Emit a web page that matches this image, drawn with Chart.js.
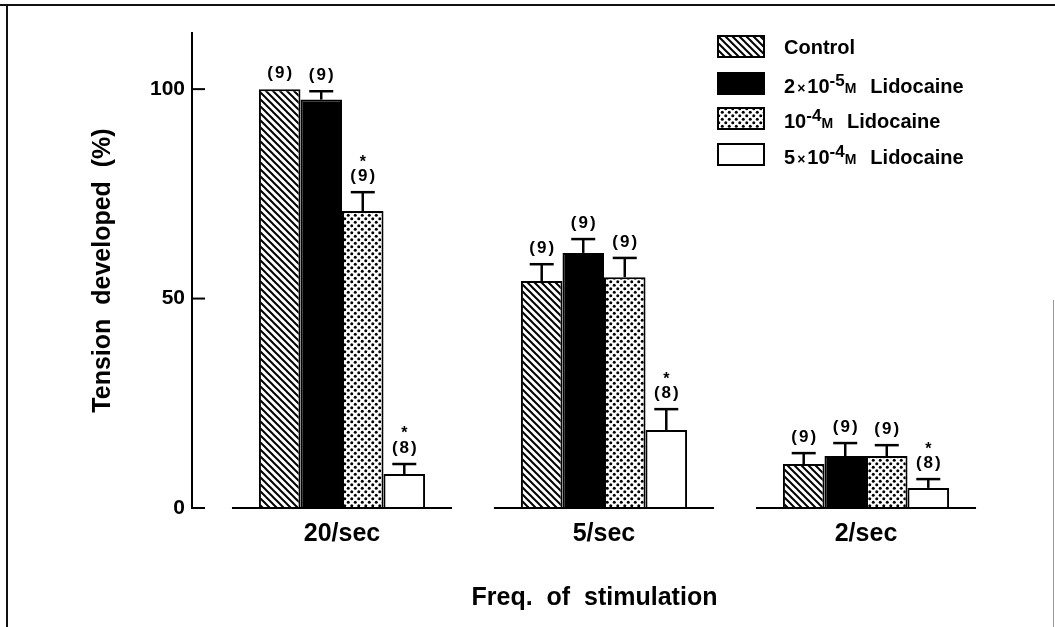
<!DOCTYPE html>
<html>
<head>
<meta charset="utf-8">
<script src="https://cdn.jsdelivr.net/npm/chart.js@4"></script>
<style>
  body { margin: 0; background: #fff; }
  #wrap { position: relative; width: 1055px; height: 627px; overflow: hidden; background: #fff; }
  #chart { position: absolute; left: 0; top: 0; }
  .frameTop { position: absolute; left: 0; top: 4px; width: 1055px; height: 2px; background: #111; }
  .frameLeft { position: absolute; left: 6px; top: 4px; width: 2px; height: 623px; background: #111; }
  .frameRight { position: absolute; left: 1053px; top: 300px; width: 1px; height: 327px; background: #999; }
  .sw { position: absolute; left: 717px; width: 48px; height: 23px; }
  .lt { position: absolute; left: 784px; font: bold 20px "Liberation Sans", Arial, sans-serif; line-height: 20px; color: #000; white-space: pre; }
  .lt sup { font-size: 17px; vertical-align: 7px; line-height: 0; }
  .lt .m { font-size: 14px; }
  .lt .x { font-size: 14px; margin: 0 2px; }
  .lt .w { margin-left: 14px; }
</style>
</head>
<body>
<div id="wrap">
  <canvas id="chart" width="1055" height="627"></canvas>
  <div class="frameTop"></div>
  <div class="frameLeft"></div>
  <div class="frameRight"></div>
  <div id="legend"></div>
</div>
<script>
// ---------------- data ----------------
const categories = ['20/sec', '5/sec', '2/sec'];
const seriesNames = ['Control', '2×10⁻⁵M Lidocaine', '10⁻⁴M Lidocaine', '5×10⁻⁴M Lidocaine'];
const legendParts = [
  { pre: 'Control', sup: '', unit: '', drug: '' },
  { pre: '2|×|10', sup: '-5', unit: 'M', drug: 'Lidocaine' },
  { pre: '10', sup: '-4', unit: 'M', drug: 'Lidocaine' },
  { pre: '5|×|10', sup: '-4', unit: 'M', drug: 'Lidocaine' }
];
const control  = [100, 54.2, 10.5];
const lido2e5  = [97.5, 60.9, 12.4];
const lido1e4  = [70.9, 55.1, 12.4];
const lido5e4  = [8.1, 18.6, 4.8];
const controlErr = [0, 4.0, 2.6];
const lido2e5Err = [2.0, 3.3, 3.1];
const lido1e4Err = [4.5, 4.6, 2.6];
const lido5e4Err = [2.4, 5.0, 2.1];
const controlN = [9, 9, 9];
const lido2e5N = [9, 9, 9];
const lido1e4N = [9, 9, 9];
const lido5e4N = [8, 8, 8];
const controlSig = [false, false, false];
const lido2e5Sig = [false, false, false];
const lido1e4Sig = [true, false, false];
const lido5e4Sig = [true, true, true];
const yTicks = [0, 50, 100];
const yMax = 113.4;
const xTitle = 'Freq.  of  stimulation';
const yTitle = 'Tension  developed  (%)';

// ---------------- styles ----------------
const FONT = '"Liberation Sans", Arial, sans-serif';
const BASE_HALF = 0.42;
const canvas = document.getElementById('chart');
const ctx = canvas.getContext('2d');

function hatchPattern(c2) {
  const s = 7;
  const c = document.createElement('canvas');
  c.width = s; c.height = s;
  const g = c.getContext('2d');
  g.fillStyle = '#fff'; g.fillRect(0, 0, s, s);
  g.strokeStyle = '#000'; g.lineWidth = 2;
  g.beginPath();
  g.moveTo(-1, -1); g.lineTo(s + 1, s + 1);
  g.moveTo(-1, s - 1); g.lineTo(1, s + 1);
  g.moveTo(s - 1, -1); g.lineTo(s + 1, 1);
  g.stroke();
  return c2.createPattern(c, 'repeat');
}
function dotPattern(c2) {
  const s = 7;
  const c = document.createElement('canvas');
  c.width = s; c.height = s;
  const g = c.getContext('2d');
  g.fillStyle = '#fff'; g.fillRect(0, 0, s, s);
  g.fillStyle = '#000';
  [[1.75, 1.75], [5.25, 5.25]].forEach(([px, py]) => {
    g.beginPath(); g.arc(px, py, 1.5, 0, Math.PI * 2); g.fill();
  });
  return c2.createPattern(c, 'repeat');
}
const fills = [hatchPattern(ctx), '#000', dotPattern(ctx), '#fff'];
const values = [control, lido2e5, lido1e4, lido5e4];
const errs = [controlErr, lido2e5Err, lido1e4Err, lido5e4Err];
const counts = [controlN, lido2e5N, lido1e4N, lido5e4N];
const sigs = [controlSig, lido2e5Sig, lido1e4Sig, lido5e4Sig];

const toXY = arr => arr.map((v, i) => ({ x: i + 1, y: v }));

const overlay = {
  id: 'overlay',
  afterDatasetsDraw(chart) {
    const c = chart.ctx;
    const x = chart.scales.x, y = chart.scales.y;
    const y0 = y.getPixelForValue(0);
    c.save();
    c.strokeStyle = '#000';
    c.fillStyle = '#000';
    c.lineWidth = 2;
    categories.forEach((cat, i) => {
      const cx = x.getPixelForValue(i + 1);
      const hw = x.getPixelForValue(i + 1 + BASE_HALF) - cx;
      c.beginPath(); c.moveTo(cx - hw, y0); c.lineTo(cx + hw, y0); c.stroke();
    });
    const left = chart.chartArea.left;
    yTicks.forEach(v => {
      const py = y.getPixelForValue(v);
      c.beginPath(); c.moveTo(left, py); c.lineTo(left + 13, py); c.stroke();
    });
    chart.data.datasets.forEach((ds, di) => {
      const meta = chart.getDatasetMeta(di);
      meta.data.forEach((bar, j) => {
        const v = ds.data[j].y, e = ds.errors[j];
        let top = bar.y;
        if (e > 0) {
          const pe = y.getPixelForValue(v + e);
          c.lineWidth = 2.5;
          c.beginPath(); c.moveTo(bar.x, bar.y); c.lineTo(bar.x, pe); c.stroke();
          c.beginPath(); c.moveTo(bar.x - 12, pe); c.lineTo(bar.x + 12, pe); c.stroke();
          top = pe;
        }
        c.textAlign = 'center';
        c.textBaseline = 'middle';
        c.font = 'bold 17px ' + FONT;
        c.letterSpacing = '2px';
        c.fillText('(' + ds.counts[j] + ')', bar.x + 1, top - 16);
        if (ds.sig[j]) {
          c.letterSpacing = '0px';
          c.font = 'bold 16px ' + FONT;
          c.fillText('*', bar.x, top - 30);
        }
      });
    });
    c.restore();
  }
};

new Chart(ctx, {
  type: 'bar',
  data: {
    datasets: seriesNames.map((name, k) => ({
      label: name,
      data: toXY(values[k]),
      errors: errs[k],
      counts: counts[k],
      sig: sigs[k],
      backgroundColor: fills[k],
      borderColor: '#000',
      borderWidth: 2,
      categoryPercentage: 0.634,
      barPercentage: 1
    }))
  },
  options: {
    responsive: false,
    animation: false,
    devicePixelRatio: 1,
    layout: { padding: { left: 0, top: 33, right: 58, bottom: 0 } },
    plugins: { legend: { display: false }, tooltip: { enabled: false } },
    scales: {
      x: {
        type: 'linear',
        offset: false,
        min: 0.4275,
        max: 3.5,
        grid: { display: false, drawTicks: false },
        border: { display: false },
        afterBuildTicks: s => { s.ticks = categories.map((c, i) => ({ value: i + 1 })); },
        afterFit: s => { s.height = 119; },
        ticks: {
          callback: v => categories[Math.round(v) - 1] ?? '',
          font: { family: FONT, size: 25, weight: 'bold' },
          color: '#000',
          padding: 11,
          maxRotation: 0,
          autoSkip: false
        },
        title: {
          display: true, text: xTitle, color: '#000',
          font: { family: FONT, size: 25, weight: 'bold' },
          padding: { top: 0, bottom: 14 }
        }
      },
      y: {
        min: 0,
        max: yMax,
        grid: { display: false, drawTicks: false },
        border: { display: true, color: '#000', width: 2 },
        afterBuildTicks: s => { s.ticks = yTicks.map(v => ({ value: v })); },
        afterFit: s => { s.width = 192; },
        ticks: {
          font: { family: FONT, size: 21, weight: 'bold' },
          color: '#000',
          padding: 7
        },
        title: {
          display: true, text: yTitle, color: '#000',
          font: { family: FONT, size: 25, weight: 'bold' },
          padding: { top: 88, bottom: 0 }
        }
      }
    }
  },
  plugins: [overlay]
});

// ---------------- HTML legend ----------------
const swTops = [35, 72, 107, 143];
const textBaselines = [54, 93, 128, 164];
const legend = document.getElementById('legend');
legendParts.forEach((p, k) => {
  const sw = document.createElement('canvas');
  sw.className = 'sw';
  sw.width = 48; sw.height = 23;
  sw.style.top = swTops[k] + 'px';
  const g = sw.getContext('2d');
  g.fillStyle = k === 0 ? hatchPattern(g) : k === 2 ? dotPattern(g) : fills[k];
  g.fillRect(0, 0, 48, 23);
  g.strokeStyle = '#000'; g.lineWidth = 2;
  g.strokeRect(1, 1, 46, 21);
  legend.appendChild(sw);
  const t = document.createElement('div');
  t.className = 'lt';
  t.style.top = (textBaselines[k] - 17) + 'px';
  let html = p.pre.split('|').map(s => s === '×' ? '<span class="x">×</span>' : s).join('');
  if (p.sup) html += '<sup>' + p.sup + '</sup>';
  if (p.unit) html += '<span class="m">' + p.unit + '</span>';
  if (p.drug) html += '<span class="w">' + p.drug + '</span>';
  t.innerHTML = html;
  legend.appendChild(t);
});
</script>
</body>
</html>
